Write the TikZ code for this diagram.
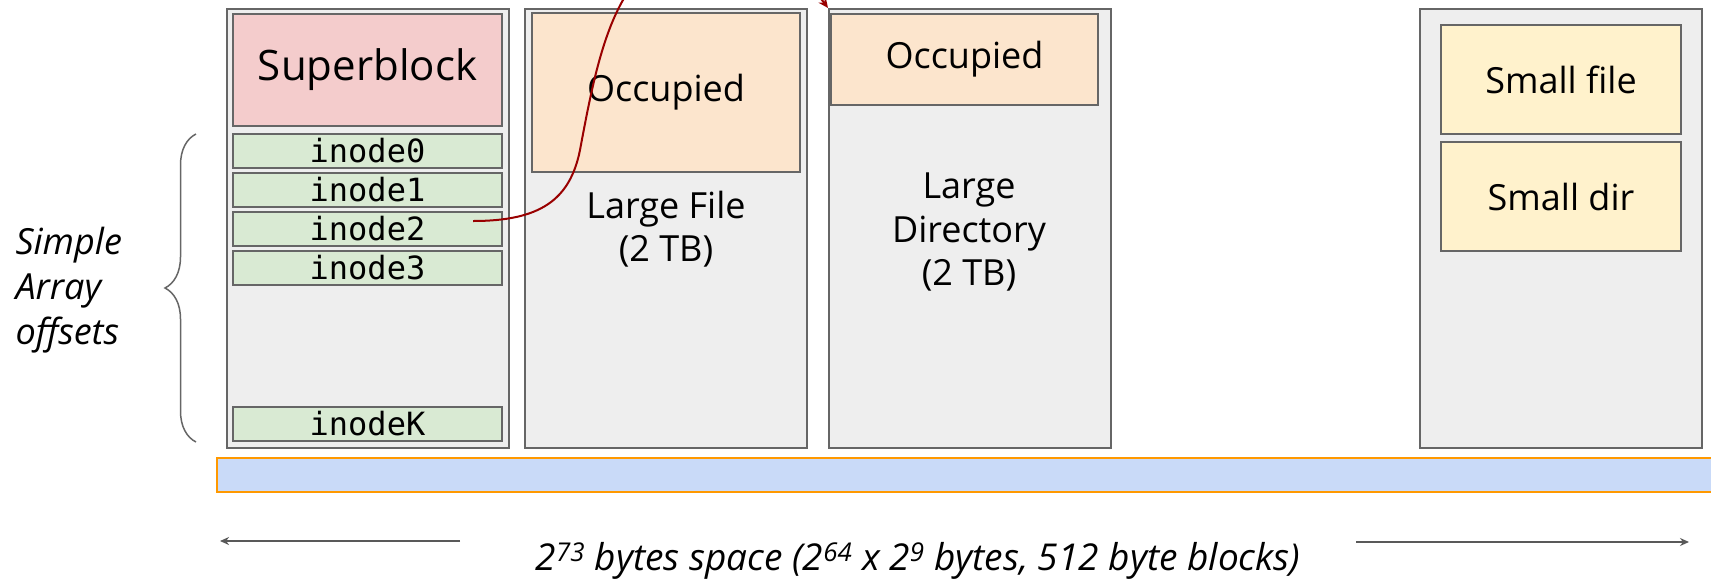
\documentclass[tikz,border=0pt]{standalone}
\usepackage{fontspec}
\setmainfont{Open Sans}
\setmonofont{DejaVu Sans Mono}
\usepackage{tikz}
\usepackage{xcolor}
\usetikzlibrary{arrows.meta,decorations.pathreplacing}

\definecolor{colfill}{HTML}{EEEEEE}
\definecolor{colline}{HTML}{666666}
\definecolor{sbfill}{HTML}{F4CCCC}
\definecolor{inofill}{HTML}{D9EAD3}
\definecolor{occfill}{HTML}{FCE5CD}
\definecolor{smfill}{HTML}{FFF2CC}
\definecolor{barfill}{HTML}{C9DAF8}
\definecolor{barline}{HTML}{FF9900}
\definecolor{linkred}{HTML}{990000}
\definecolor{arrowgray}{HTML}{595959}

\tikzset{
  blk/.style={draw=colline, line width=2pt, anchor=north west, inner sep=0pt},
  column/.style={blk, fill=colfill, minimum width=282pt, minimum height=439pt},
  inobox/.style={blk, fill=inofill, minimum width=269pt, minimum height=34pt,
    font=\fontsize{32}{34}\selectfont\ttfamily},
  occbox/.style={blk, fill=occfill, font=\fontsize{36}{42}\selectfont},
  smbox/.style={blk, fill=smfill, minimum width=240pt, minimum height=109pt,
    font=\fontsize{36}{42}\selectfont},
  colnote/.style={align=center, font=\fontsize{36}{43.5}\selectfont},
  spacearrow/.style={draw=arrowgray, line width=2pt, -{Stealth[length=9pt,width=8pt]}}
}

\begin{document}
\begin{tikzpicture}[x=1pt, y=-1pt]
\useasboundingbox (0,0) rectangle (1711,579);
\clip (0,0) rectangle (1711,579);
% Columns of the disk
\node[column] (sbcol) at (226,8) {};
\node[column] (filecol) at (524,8) {};
\node[column] (dircol) at (828,8) {};
\node[column] (smcol) at (1419,8) {};
% Superblock and inode table
\node[blk, fill=sbfill, minimum width=269pt, minimum height=112pt,
  font=\fontsize{42}{48}\selectfont] (super) at (232,13) {\raisebox{-4pt}{Superblock}};
\foreach \i/\y in {0/133, 1/172, 2/211, 3/250, K/406}
  \node[inobox] (inode\i) at (232,\y) {inode\i};
% Large file column
\node[occbox, minimum width=268pt, minimum height=159pt] (occfile) at (531,12) {Occupied};
\node[colnote] (filenote) at (666,229) {Large File\\(2 TB)};
% Large directory column
\node[occbox, minimum width=267pt, minimum height=91pt] (occdir) at (830,13) {\raisebox{-3pt}{Occupied}};
\node[colnote] (dirnote) at (969,232) {Large\\Directory\\(2 TB)};
% Small files column
\node[smbox] (smfile) at (1440,24) {Small file};
\node[smbox] (smdir) at (1440,141) {Small dir};
% Address space bar
\node[blk, draw=barline, fill=barfill, minimum width=1540pt, minimum height=34pt] (space) at (216,457) {};
% Brace for the inode array
\draw[draw=colline, line width=1.5pt, decorate,
  decoration={brace, amplitude=31pt}] (196,442) -- (196,134);
\node[anchor=west, align=left, font=\fontsize{36}{45}\selectfont\itshape] (arraynote) at (12,290)
  {Simple\\Array\\offsets};
% inode2 points at the directory
\coordinate (linkstart) at (473,221);
\draw[draw=linkred, line width=2pt, -{Stealth[length=10pt,width=9pt]}] (linkstart)
  .. controls (540,221) and (570,200) .. (580,150)
  .. controls (595,70) and (610,-10) .. (660,-40)
  .. controls (720,-70) and (800,-30) .. (dircol.north west);
% Size of the whole space
\node[font=\fontsize{37}{42}\selectfont\itshape] (spacenote) at (918,561)
  {2\textsuperscript{73} bytes space (2\textsuperscript{64} x 2\textsuperscript{9} bytes, 512 byte blocks)};
\coordinate (leftend) at (460,541);
\coordinate (rightend) at (1356,542);
\draw[spacearrow] (leftend) -- (220,541);
\draw[spacearrow] (rightend) -- (1689,542);
\end{tikzpicture}
\end{document}
